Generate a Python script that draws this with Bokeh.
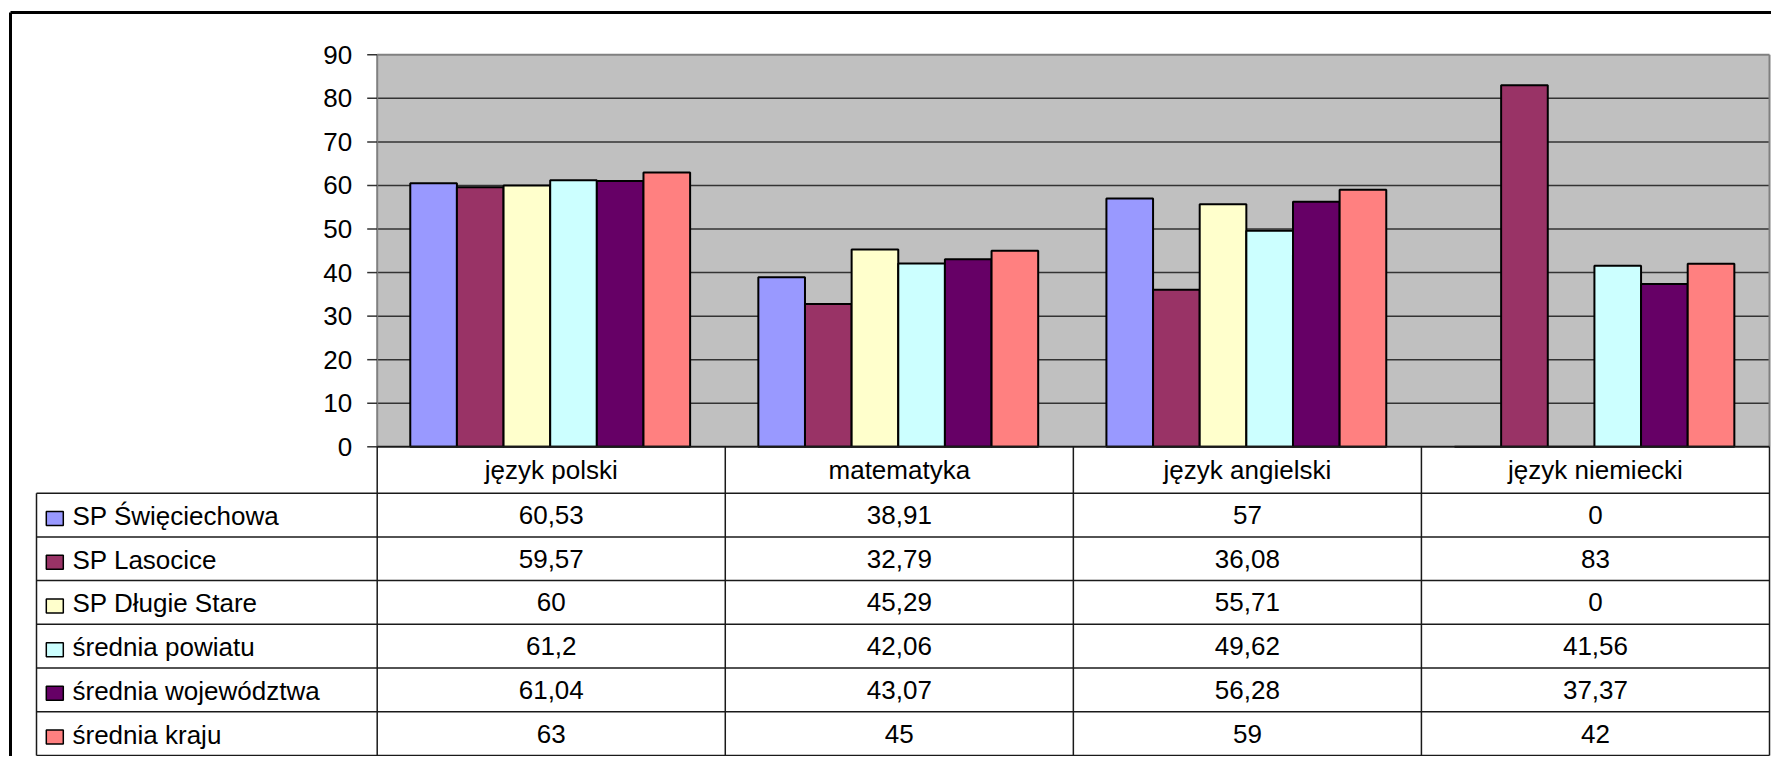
import numpy as np
from bokeh.plotting import figure
from bokeh.models import Range1d, ColumnDataSource
from bokeh.embed import file_html
from bokeh.resources import INLINE
from bokeh.core.properties import value

# ---------------- data ----------------
categories = ["język polski", "matematyka", "język angielski", "język niemiecki"]
series = ["SP Święciechowa", "SP Lasocice", "SP Długie Stare",
          "średnia powiatu", "średnia województwa", "średnia kraju"]
sp_swieciechowa = [60.53, 38.91, 57, 0]
sp_lasocice = [59.57, 32.79, 36.08, 83]
sp_dlugie_stare = [60, 45.29, 55.71, 0]
srednia_powiatu = [61.2, 42.06, 49.62, 41.56]
srednia_wojewodztwa = [61.04, 43.07, 56.28, 37.37]
srednia_kraju = [63, 45, 59, 42]
values_by_series = [sp_swieciechowa, sp_lasocice, sp_dlugie_stare,
                    srednia_powiatu, srednia_wojewodztwa, srednia_kraju]
colors = ["#9999FF", "#993366", "#FFFFCC", "#CCFFFF", "#660066", "#FF8080"]
yticks = [0, 10, 20, 30, 40, 50, 60, 70, 80, 90]

FONT = value("Liberation Sans")
FSIZE = "26px"


def fmt(v):
    return f"{v:g}".replace(".", ",")


# ---------------- layout constants (canvas pixels) ----------------
W, H = 1771, 756
X0 = 376.7          # left edge of plot area
XR = 1769.0         # right edge of plot area / table
Y0 = 446.3          # value 0
Y90 = 54.3          # value 90
TABLE_LEFT = 36.0
HEADER_BOTTOM = 492.7
ROW_PX = 43.7
catw = (XR - X0) / 4.0
ppu = (Y0 - Y90) / 90.0


def to_x(px):
    return (px - X0) / catw


def to_y(py):
    return (Y0 - py) / ppu


p = figure(x_range=Range1d(to_x(0), to_x(W)), y_range=Range1d(to_y(H), to_y(0)),
           width=W, height=H, output_backend="svg", toolbar_location=None,
           x_axis_location=None, y_axis_location=None, title=None,
           min_border_left=0, min_border_right=0, min_border_top=0, min_border_bottom=0)
p.grid.visible = False
p.outline_line_color = None
p.background_fill_color = "white"
p.border_fill_color = "white"

ncat = len(categories)
ymax = yticks[-1]

# plot area background
p.quad(left=[0], right=[ncat], bottom=[0], top=[ymax], fill_color="#C0C0C0", line_color=None)
# horizontal grid lines
gy = yticks[1:-1]
p.segment(x0=[0] * len(gy), x1=[ncat] * len(gy), y0=gy, y1=gy,
          line_color="#333333", line_width=1.5)

# bars
bar_w = 0.134
cat_idx = np.arange(ncat)
for i, (name, col, vals) in enumerate(zip(series, colors, values_by_series)):
    xs = cat_idx + 0.497 + (i - 2.5) * bar_w
    src = ColumnDataSource(dict(x=xs, top=vals))
    p.vbar(x="x", top="top", bottom=0, width=bar_w, source=src,
           fill_color=col, line_color="black", line_width=2)

# plot-area frame (grey) : top, left, right
p.segment(x0=[0, 0, ncat], x1=[ncat, 0, ncat], y0=[ymax, 0, 0], y1=[ymax, ymax, ymax],
          line_color="#808080", line_width=2)

# y axis ticks and labels
tick_len = 10.0 / catw
p.segment(x0=[-tick_len] * len(yticks), x1=[0] * len(yticks), y0=yticks, y1=yticks,
          line_color="#333333", line_width=1.5)
p.text(x=[0] * len(yticks), y=yticks, text=[str(t) for t in yticks], x_offset=-25,
       text_align="right", text_baseline="middle", text_font=FONT,
       text_font_size=FSIZE, text_color="black")

# ---------------- data table ----------------
LC = "#1a1a1a"
LW = 1.5
leg_left = to_x(TABLE_LEFT)
row_edges = [to_y(HEADER_BOTTOM + k * ROW_PX) for k in range(len(series) + 1)]
y_bottom = row_edges[-1]
# axis line at value 0
p.segment(x0=[0], x1=[ncat], y0=[0], y1=[0], line_color=LC, line_width=2)
# horizontal rules
p.segment(x0=[leg_left] * len(row_edges), x1=[ncat] * len(row_edges),
          y0=row_edges, y1=row_edges, line_color=LC, line_width=LW)
# vertical rules
vx = [leg_left] + list(range(ncat + 1))
vy0 = [row_edges[0]] + [0] * (ncat + 1)
p.segment(x0=vx, x1=vx, y0=vy0, y1=[y_bottom] * len(vx), line_color=LC, line_width=LW)

# header labels
p.text(x=cat_idx + 0.5, y=[to_y((Y0 + HEADER_BOTTOM) / 2)] * ncat, text=categories,
       text_align="center", text_baseline="middle", text_font=FONT,
       text_font_size=FSIZE, text_color="black")

# table values
row_centers = [(row_edges[r] + row_edges[r + 1]) / 2 for r in range(len(series))]
vx_, vy_, vt_ = [], [], []
for r, vals in enumerate(values_by_series):
    for c, v in enumerate(vals):
        vx_.append(c + 0.5)
        vy_.append(row_centers[r])
        vt_.append(fmt(v))
p.text(x=vx_, y=vy_, text=vt_, text_align="center", text_baseline="middle",
       text_font=FONT, text_font_size=FSIZE, text_color="black")

# legend keys and series names
key_y = [yc - 3.5 / ppu for yc in row_centers]
p.rect(x=[to_x(54.3)] * len(series), y=key_y,
       width=17, height=14, width_units="screen", height_units="screen",
       fill_color=colors, line_color="black", line_width=1.5)
p.text(x=[to_x(72.0)] * len(series), y=row_centers, y_offset=1, text=series,
       text_align="left", text_baseline="middle", text_font=FONT,
       text_font_size=FSIZE, text_color="black")

# outer chart border (left and top)
bx, by = to_x(10), to_y(12)
p.segment(x0=[bx, bx], x1=[to_x(W + 5), bx], y0=[by, by], y1=[by, to_y(H + 5)],
          line_color="black", line_width=3)

open("out.html", "w").write(file_html(p, INLINE))
